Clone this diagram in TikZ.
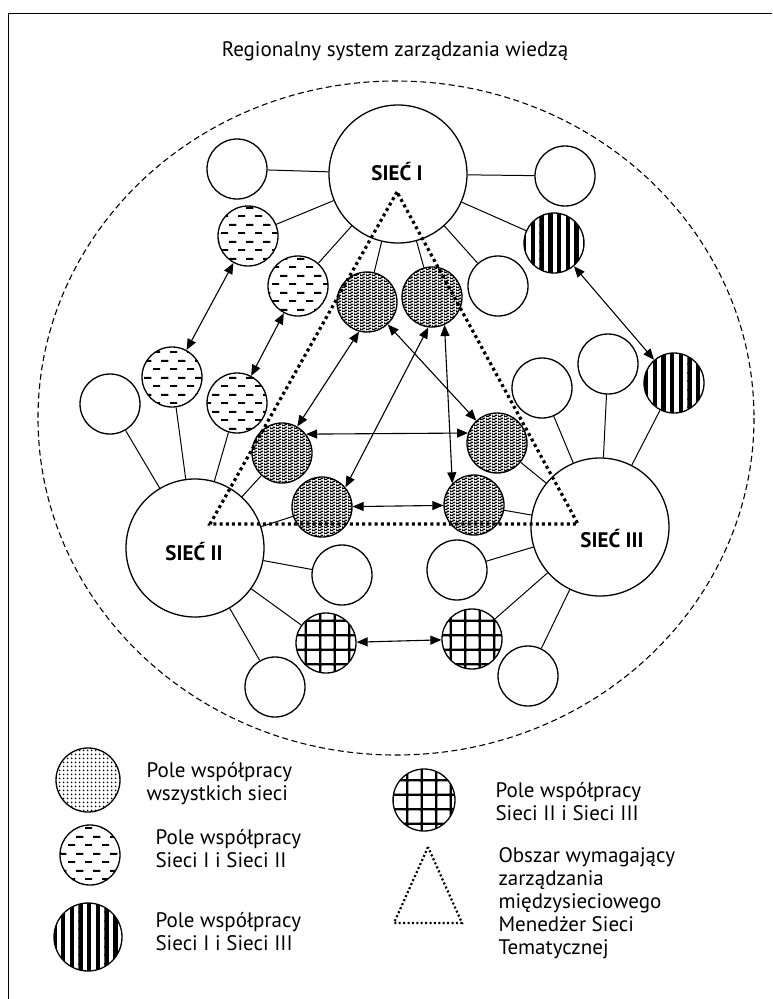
\documentclass[tikz,border=0pt]{standalone}
\usepackage{fontspec}
\setmainfont{PT Sans}
\usetikzlibrary{arrows.meta,patterns,positioning}

% fill patterns of the cooperation fields
\pgfdeclarepatternformonly{netbricks}{\pgfqpoint{0pt}{0pt}}{\pgfqpoint{6pt}{3pt}}{\pgfqpoint{6pt}{3pt}}{%
    \pgfpathrectangle{\pgfqpoint{0pt}{0pt}}{\pgfqpoint{3.8pt}{1.5pt}}%
    \pgfpathrectangle{\pgfqpoint{3pt}{1.5pt}}{\pgfqpoint{3pt}{1.5pt}}%
    \pgfpathrectangle{\pgfqpoint{0pt}{1.5pt}}{\pgfqpoint{0.8pt}{1.5pt}}%
    \pgfusepath{fill}}
\pgfdeclarepatternformonly{finedots}{\pgfqpoint{0pt}{0pt}}{\pgfqpoint{3.6pt}{3.6pt}}{\pgfqpoint{3.6pt}{3.6pt}}{%
    \pgfpathcircle{\pgfqpoint{1.8pt}{1.8pt}}{1pt}%
    \pgfusepath{fill}}
\pgfdeclarepatternformonly{dashrows}{\pgfqpoint{0pt}{0pt}}{\pgfqpoint{17pt}{17pt}}{\pgfqpoint{17pt}{17pt}}{%
    \pgfpathrectangle{\pgfqpoint{0pt}{0pt}}{\pgfqpoint{7.5pt}{2pt}}%
    \pgfpathrectangle{\pgfqpoint{8.5pt}{8.5pt}}{\pgfqpoint{7.5pt}{2pt}}%
    \pgfusepath{fill}}
\pgfdeclarepatternformonly{vstripes}{\pgfqpoint{0pt}{-1pt}}{\pgfqpoint{8.7pt}{9.7pt}}{\pgfqpoint{8.7pt}{8.7pt}}{%
    \pgfpathrectangle{\pgfqpoint{0pt}{-1pt}}{\pgfqpoint{4.4pt}{10.7pt}}%
    \pgfusepath{fill}}
\pgfdeclarepatternformonly{cellgrid}{\pgfqpoint{-1pt}{-1pt}}{\pgfqpoint{15.5pt}{15.5pt}}{\pgfqpoint{14.5pt}{14.5pt}}{%
    \pgfpathrectangle{\pgfqpoint{0pt}{-1pt}}{\pgfqpoint{2.4pt}{16.5pt}}%
    \pgfpathrectangle{\pgfqpoint{-1pt}{0pt}}{\pgfqpoint{16.5pt}{2.4pt}}%
    \pgfusepath{fill}}

\begin{document}
\begin{tikzpicture}[x=1pt, y=-1pt,
        circ/.style={circle, draw, line width=1.3pt, minimum size=60pt, inner sep=0pt},
        plain/.style={circ, fill=white},
        bignet/.style={plain, minimum size=138pt},
        allnets/.style={circ, pattern=netbricks},
        onetwo/.style={circ, pattern=dashrows},
        onethree/.style={circ, pattern=vstripes},
        twothree/.style={circ, pattern=cellgrid},
        netlabel/.style={font=\fontsize{21}{24}\selectfont\bfseries},
        legtext/.style={font=\fontsize{21}{23}\selectfont, align=left, anchor=west},
        tie/.style={line width=1pt},
        flow/.style={<->, >={Triangle[length=11pt,width=9pt]}, line width=1.1pt},
        area/.style={line width=3.2pt, dash pattern=on 3pt off 3.2pt},
    ]
        \useasboundingbox (0,0) rectangle (772,999);
        \draw[line width=1pt] (8,999) -- (8,13) -- (772,13);

        % Region
        \node[font=\fontsize{21}{24}\selectfont] (title) at (395,51) {Regionalny system zarządzania wiedzą};
        \draw[line width=1.1pt, dash pattern=on 6pt off 3.5pt] (396,418) ellipse [x radius=358, y radius=337];

        % Networks
        \node[bignet] (s1) at (398,174) {};
        \node[bignet] (s2) at (195,548) {};
        \node[bignet] (s3) at (600,527) {};
        \node[netlabel] (s1t) at (397,172) {SIEĆ I};
        \node[netlabel] (s2t) at (194,552) {SIEĆ II};
        \node[netlabel] (s3t) at (612,539) {SIEĆ III};

        % Members
        \node[plain] (w1) at (237,169) {};
        \node[plain] (w2) at (565,176) {};
        \node[plain] (w3) at (498,286) {};
        \node[plain] (w4) at (110,404) {};
        \node[plain] (w5) at (542,388) {};
        \node[plain] (w6) at (608,364) {};
        \node[plain] (w7) at (342,575) {};
        \node[plain] (w8) at (457,570) {};
        \node[plain] (w9) at (275,687) {};
        \node[plain] (w10) at (528,676) {};

        % Cooperation fields
        \node[onetwo] (h1) at (248,236) {};
        \node[onetwo] (h2) at (298,286) {};
        \node[onetwo] (h3) at (172,377) {};
        \node[onetwo] (h4) at (237,403) {};
        \node[onethree] (v1) at (554,243) {};
        \node[onethree] (v2) at (674,383) {};
        \node[allnets] (a1) at (367,302) {};
        \node[allnets] (a2) at (432,297) {};
        \node[allnets] (a3) at (282,453) {};
        \node[allnets] (a4) at (497,443) {};
        \node[allnets] (a5) at (322,507) {};
        \node[allnets] (a6) at (474,505) {};
        \node[twothree] (g1) at (326,643) {};
        \node[twothree] (g2) at (472,639) {};

        % Ties to the networks
        \draw[tie] (s1) -- (w1);
        \draw[tie] (s1) -- (w2);
        \draw[tie] (s1) -- (h1);
        \draw[tie] (s1) -- (h2);
        \draw[tie] (s1) -- (a1);
        \draw[tie] (s1) -- (a2);
        \draw[tie] (s1) -- (w3);
        \draw[tie] (s1) -- (v1);

        \draw[tie] (s2) -- (w4);
        \draw[tie] (s2) -- (h3);
        \draw[tie] (s2) -- (h4);
        \draw[tie] (s2) -- (a3);
        \draw[tie] (s2) -- (a5);
        \draw[tie] (s2) -- (w7);
        \draw[tie] (s2) -- (g1);
        \draw[tie] (s2) -- (w9);

        \draw[tie] (s3) -- (a4);
        \draw[tie] (s3) -- (a6);
        \draw[tie] (s3) -- (w5);
        \draw[tie] (s3) -- (w6);
        \draw[tie] (s3) -- (v2);
        \draw[tie] (s3) -- (w8);
        \draw[tie] (s3) -- (g2);
        \draw[tie] (s3) -- (w10);

        % Cooperation
        \draw[flow] (h1) -- (h3);
        \draw[flow] (h2) -- (h4);
        \draw[flow] (v1) -- (v2);
        \draw[flow] (a1.-105) -- (a3.60);
        \draw[flow] (a1) -- (a4);
        \draw[flow] (a2.-97) -- (a5.40);
        \draw[flow] (a2.-66) -- (a6.135);
        \draw[flow] (a3.38) -- (a4.161);
        \draw[flow] (a5) -- (a6);
        \draw[flow] (g1) -- (g2);

        % Inter-network area
        \draw[area] (397,192) -- (210,524) -- (578,524) -- cycle;

        % Legend
        \node[circ, minimum size=64pt, pattern=finedots] (k1) at (88,780) {};
        \node[onetwo] (k2) at (90,855) {};
        \node[onethree, minimum size=68pt] (k3) at (88,937) {};
        \node[twothree, minimum size=62pt] (k4) at (424,800) {};
        \draw[line width=2.2pt, dash pattern=on 2pt off 2.4pt] (428,847) -- (394,923) -- (462,923) -- cycle;

        \node[legtext] (k1t) at (143,784) {Pole współpracy\\wszystkich sieci};
        \node[legtext] (k2t) at (152,849) {Pole współpracy\\Sieci I i Sieci II};
        \node[legtext] (k3t) at (152,932) {Pole współpracy\\Sieci I i Sieci III};
        \node[legtext] (k4t) at (492,802) {Pole współpracy\\Sieci II i Sieci III};
        \node[legtext] (k5t) at (495,903) {Obszar wymagający\\zarządzania\\międzysieciowego\\Menedżer Sieci\\Tematycznej};
    \end{tikzpicture}
\end{document}
